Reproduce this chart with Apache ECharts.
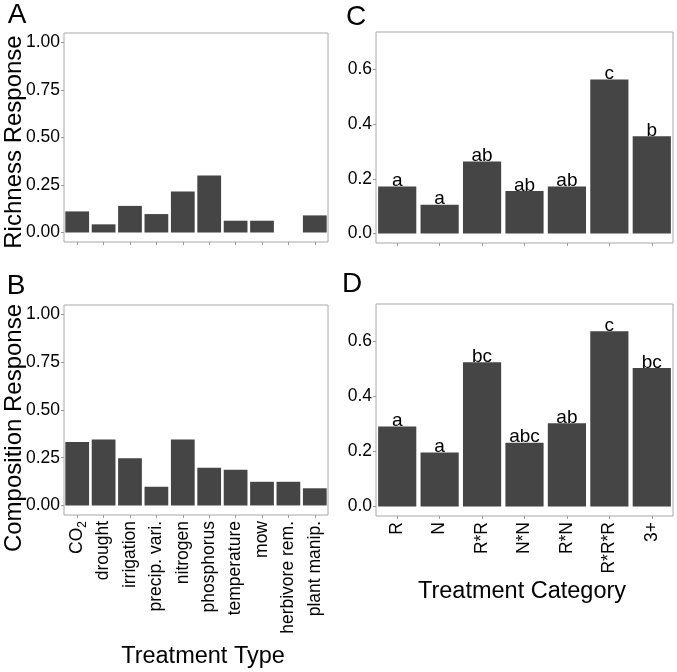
<!DOCTYPE html>
<html>
<head>
<meta charset="utf-8">
<script src="https://cdn.jsdelivr.net/npm/echarts@6/dist/echarts.min.js"></script>
<style>html,body{margin:0;padding:0;background:#fff;}#c{width:677px;height:672px;}</style>
</head>
<body>
<div id="c"></div>
<script>
// ---- data ----
const typeCats = ['CO2', 'drought', 'irrigation', 'precip. vari.', 'nitrogen', 'phosphorus', 'temperature', 'mow', 'herbivore rem.', 'plant manip.'];
const richnessByType = [0.111, 0.043, 0.140, 0.097, 0.216, 0.300, 0.062, 0.062, null, 0.090];
const compositionByType = [0.332, 0.345, 0.247, 0.098, 0.345, 0.197, 0.187, 0.124, 0.124, 0.090];
const categoryCats = ['R', 'N', 'R*R', 'N*N', 'R*N', 'R*R*R', '3+'];
const richnessByCat = [0.172, 0.105, 0.263, 0.155, 0.172, 0.563, 0.356];
const richnessLetters = ['a', 'a', 'ab', 'ab', 'ab', 'c', 'b'];
const compositionByCat = [0.291, 0.196, 0.525, 0.232, 0.303, 0.638, 0.504];
const compositionLetters = ['a', 'a', 'bc', 'abc', 'ab', 'c', 'bc'];
const typeTicks = [0, 0.25, 0.5, 0.75, 1];
const catTicks = [0, 0.2, 0.4, 0.6];

const FONT = 'Liberation Sans, Arial, Helvetica, sans-serif';
const BAR = '#454545';
const BORDER = '#a8a8a8';
const TICK = '#9a9a9a';

const grids = [
  {left: 64, top: 33, width: 264, height: 209},
  {left: 64, top: 305, width: 264, height: 210},
  {left: 376, top: 32, width: 297, height: 211},
  {left: 376, top: 304, width: 297, height: 212}
].map(g => Object.assign(g, {show: true, borderColor: BORDER, borderWidth: 1, backgroundColor: '#fff'}));

function xAxis(gi, cats, showLabels) {
  return {
    type: 'category', gridIndex: gi, data: cats, position: 'bottom',
    axisLine: {show: false, onZero: false},
    axisTick: {show: true, alignWithLabel: true, length: 3, lineStyle: {color: TICK}},
    axisLabel: {
      show: showLabels, rotate: 90, interval: 0, margin: 6,
      color: '#000', fontSize: 17.5, fontFamily: FONT,
      formatter: v => v === 'CO2' ? 'CO{sub|2}' : v,
      rich: {sub: {fontSize: 12, fontFamily: FONT, color: '#000', verticalAlign: 'bottom', padding: [10, 0, 0, 0]}}
    }
  };
}
function yAxis(gi, min, max, ticks, dec) {
  return {
    type: 'value', gridIndex: gi, min: min, max: max, position: 'left',
    splitLine: {show: false},
    axisLine: {show: false, onZero: false},
    axisTick: {show: true, length: 3, customValues: ticks, lineStyle: {color: TICK}},
    axisLabel: {
      customValues: ticks, margin: 4, color: '#000', fontSize: 17.5, fontFamily: FONT,
      formatter: v => Number(v).toFixed(dec)
    }
  };
}
function barSeries(gi, values, letters) {
  const data = values.map(v => v == null ? '-' : v);
  const s = {
    type: 'bar', xAxisIndex: gi, yAxisIndex: gi, data: data,
    barCategoryGap: '10%',
    itemStyle: {color: BAR, borderWidth: 0},
    silent: true, animation: false
  };
  if (letters) {
    s.label = {
      show: true, position: 'top', distance: -4,
      color: '#000', fontSize: 19, fontFamily: FONT,
      formatter: p => letters[p.dataIndex]
    };
  }
  return s;
}

const txt = (text, x, y, size, rot) => ({
  type: 'text', x: x, y: y, rotation: rot || 0,
  style: {text: text, fontSize: size, fontFamily: FONT, fill: '#000', align: 'center', verticalAlign: 'middle'}
});

const option = {
  animation: false,
  grid: grids,
  xAxis: [xAxis(0, typeCats, false), xAxis(1, typeCats, true), xAxis(2, categoryCats, false), xAxis(3, categoryCats, true)],
  yAxis: [yAxis(0, -0.05, 1.05, typeTicks, 2), yAxis(1, -0.05, 1.05, typeTicks, 2), yAxis(2, -0.035, 0.737, catTicks, 1), yAxis(3, -0.035, 0.737, catTicks, 1)],
  series: [barSeries(0, richnessByType), barSeries(1, compositionByType), barSeries(2, richnessByCat, richnessLetters), barSeries(3, compositionByCat, compositionLetters)],
  graphic: [
    txt('A', 17, 15, 28), txt('B', 16, 286, 28), txt('C', 356, 17, 28), txt('D', 352, 284, 28),
    txt('Richness Response', 14, 142, 24, Math.PI / 2),
    txt('Composition Response', 14, 428, 24, Math.PI / 2),
    txt('Treatment Type', 203, 657, 23.5),
    txt('Treatment Category', 522, 592, 23.5)
  ]
};
const chart = echarts.init(document.getElementById('c'), null, {renderer: 'canvas'});
chart.setOption(option);
</script>
</body>
</html>
